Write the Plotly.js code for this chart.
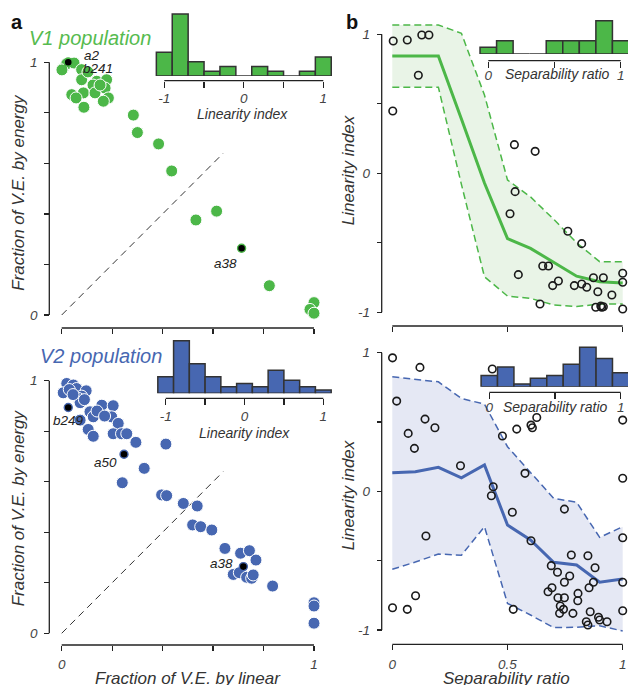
<!DOCTYPE html>
<html>
<head>
<meta charset="utf-8">
<script src="https://cdn.plot.ly/plotly-3.0.1.min.js"></script>
<style>html,body{margin:0;padding:0;background:#fff;}#chart{width:628px;height:685px;}</style>
</head>
<body>
<div id="chart"></div>
<script>
// ---------------- DATA ----------------
// Panel a, V1: fraction of V.E. by linear (x) vs by energy (y)
const v1Linear = [0.006,0.020,0.049,0.079,0.079,0.139,0.178,0.124,0.040,0.086,0.132,0.172,0.185,0.165,0.088,0.152,0.104,0.057,0.001,0.284,0.300,0.384,0.436,0.532,0.614,0.823,1.0,0.984,1.0];
const v1Energy = [0.977,0.994,0.997,0.971,0.931,0.925,0.931,0.910,0.872,0.879,0.879,0.898,0.859,0.846,0.822,0.910,0.962,0.859,0.970,0.791,0.722,0.677,0.570,0.376,0.411,0.116,0.049,0.022,0.007];
const v1MarkedLinear = [0.026,0.026,0.713];
const v1MarkedEnergy = [1.0,1.0,0.264];
const v1MarkedNames = ['a2','b241','a38'];

// Panel a, V2
const v2Linear = [0.020,0.006,0.046,0.059,0.097,0.079,0.066,0.073,0.112,0.159,0.204,0.198,0.125,0.073,0.105,0.125,0.224,0.204,0.237,0.258,0.294,0.413,0.327,0.240,0.396,0.416,0.482,0.537,0.519,0.551,0.595,0.647,0.709,0.744,0.770,0.680,0.704,0.733,0.753,0.759,0.836,1.0,1.0,1.0,0.030,0.090,0.140,0.170,0.045];
const v2Energy = [0.989,0.952,0.983,0.969,0.960,0.939,0.930,0.913,0.877,0.903,0.901,0.857,0.857,0.844,0.807,0.780,0.831,0.790,0.790,0.790,0.756,0.749,0.653,0.596,0.548,0.545,0.514,0.504,0.429,0.422,0.409,0.336,0.317,0.327,0.290,0.233,0.240,0.222,0.218,0.231,0.187,0.121,0.108,0.040,0.965,0.925,0.880,0.860,0.945];
const v2MarkedLinear = [0.026,0.247,0.720];
const v2MarkedEnergy = [0.894,0.709,0.264];
const v2MarkedNames = ['b249','a50','a38'];

// Linearity index histograms (bin centres, counts)
const liBins = [-1.0,-0.8,-0.6,-0.4,-0.2,0.0,0.2,0.4,0.6,0.8,1.0];
const v1LiCounts = [5,13,3,1,2,0,2,1,0,1,4];
const v2LiCounts = [5,16,9,5,2,3,2,7,4,2,1];

// Panel b: separability ratio (x) vs linearity index (y)
const v1Sep = [0.004,0.065,0.128,0.159,0.113,0.002,0.530,0.620,0.533,0.511,0.762,0.822,0.653,0.678,0.547,0.641,0.696,0.721,0.790,0.822,0.844,0.873,0.916,0.892,0.953,1.0,1.0,1.0,0.883,0.909,0.916,0.905];
const v1LI  = [0.952,0.959,0.995,0.995,0.705,0.448,0.206,0.158,-0.132,-0.291,-0.417,-0.506,-0.667,-0.667,-0.729,-0.940,-0.808,-0.775,-0.808,-0.796,-0.820,-0.751,-0.751,-0.852,-0.876,-0.719,-0.784,-0.976,-0.964,-0.964,-0.960,-0.955];
const v2Sep = [0.001,0.120,0.434,0.019,0.142,0.185,0.069,0.096,0.296,0.438,0.430,0.478,0.540,0.602,0.608,0.627,0.576,0.521,0.602,0.146,0.747,0.777,0.849,0.690,0.717,0.880,0.770,0.747,0.873,0.854,0.693,0.676,0.806,0.719,0.747,0.805,0.729,0.743,0.726,0.784,0.859,0.895,0.900,0.932,0.842,0.849,0.001,0.065,0.101,0.525,1.0,1.0,1.0,1.0,1.0];
const v2LI  = [0.963,0.894,0.882,0.651,0.521,0.459,0.418,0.310,0.185,0.033,-0.032,0.399,0.449,0.478,0.459,0.533,0.130,-0.151,-0.356,-0.322,-0.128,-0.459,-0.464,-0.536,-0.584,-0.551,-0.611,-0.656,-0.656,-0.695,-0.695,-0.724,-0.736,-0.767,-0.767,-0.789,-0.827,-0.851,-0.880,-0.880,-0.868,-0.908,-0.928,-0.940,-0.940,-0.964,-0.839,-0.851,-0.753,-0.851,0.514,0.094,-0.335,-0.656,-0.861];

// Running mean and band (separability ratio bins)
const sepGrid = [0.0,0.1,0.2,0.3,0.4,0.5,0.6,0.7,0.8,0.9,1.0];
const v1Mean  = [0.844,0.844,0.844,0.39,-0.07,-0.47,-0.54,-0.64,-0.74,-0.78,-0.79];
const v1Upper = [1.067,1.067,1.067,1.007,0.563,-0.048,-0.17,-0.33,-0.50,-0.636,-0.636];
const v1Lower = [0.619,0.619,0.619,-0.08,-0.744,-0.883,-0.90,-0.947,-0.959,-0.94,-0.94];
const v2Mean  = [0.134,0.141,0.173,0.098,0.190,-0.243,-0.351,-0.512,-0.531,-0.656,-0.632];
const v2Upper = [0.826,0.81,0.790,0.670,0.629,0.322,0.137,-0.050,-0.079,-0.332,-0.255];
const v2Lower = [-0.562,-0.51,-0.452,-0.461,-0.255,-0.808,-0.892,-0.983,-0.98,-0.97,-1.007];

// Separability ratio histograms
const sepBins = [0,0.125,0.25,0.375,0.5,0.625,0.75,0.875,1.0];
const v1SepCounts = [2,4,0,0,4,4,4,10,4];
const v2SepCounts = [4,7,1,3,4,8,14,10,5];

// Diagonal reference
const diagX = [0,0.64];
const diagY = [0,0.64];

// ---------------- STYLE / LAYOUT ----------------
const W = 628, H = 685;
const GREEN = '#4cb748', GREEN_T = '#56bb4f', BLUE = '#4767b1';
const GREEN_FILL = '#e9f4e7', BLUE_FILL = '#e5e8f4';
const FONT = 'Liberation Sans, Arial, Helvetica, sans-serif';
const AX = '#222';

function inv(v0,p0,v1,p1){ return p => v0 + (p-p0)*(v1-v0)/(p1-p0); }
const tickFont = {family: FONT, size: 13.5, color: '#444', style: 'italic'};
function xAxis(v0,p0,v1,p1,a,b,linePy,opts){
  const f = inv(v0,p0,v1,p1);
  return Object.assign({domain:[a/W,b/W], range:[f(a),f(b)], anchor:'free', position:1-linePy/H,
    showline:false, zeroline:false, showgrid:false, ticks:'outside', ticklen:5, tickwidth:1.3,
    tickcolor:AX, tickfont:tickFont, ticklabelstandoff:2, fixedrange:true}, opts);
}
function yAxis(v0,p0,v1,p1,top,bottom,linePx,opts){
  const f = inv(v0,p0,v1,p1);
  return Object.assign({domain:[1-bottom/H,1-top/H], range:[f(bottom),f(top)], anchor:'free', position:linePx/W,
    showline:false, zeroline:false, showgrid:false, ticks:'outside', ticklen:5, tickwidth:1.3,
    tickcolor:AX, tickfont:tickFont, ticklabelstandoff:4, fixedrange:true}, opts);
}
function hLine(xref,v0,v1,py){ return {type:'line', xref:xref, yref:'paper', x0:v0, x1:v1, y0:1-py/H, y1:1-py/H, line:{color:AX,width:1.3}}; }
function vLine(yref,v0,v1,px){ return {type:'line', xref:'paper', yref:yref, x0:px/W, x1:px/W, y0:v0, y1:v1, line:{color:AX,width:1.3}}; }
function ann(text,px,py,opts){
  return Object.assign({text:text, xref:'paper', yref:'paper', x:px/W, y:1-py/H, showarrow:false, borderpad:0,
    xanchor:'center', yanchor:'middle', font:{family:FONT, size:17, color:'#333', style:'italic'}}, opts);
}

const fracTicks = [0,0.2,0.4,0.6,0.8,1];
const fracText = ['0','','','','','1'];
const histLiTicks = {tickvals:[-1,-0.5,0,0.5,1], ticktext:['-1','','0','','1'], ticklen:6, ticklabelstandoff:-1};
const histSepTicks = {tickvals:[0,0.5,1], ticktext:['0','','1'], ticklen:6, ticklabelstandoff:-4};

const layout = {
  width: W, height: H, margin:{l:0,r:0,t:0,b:0}, showlegend:false,
  paper_bgcolor:'#ffffff', plot_bgcolor:'rgba(0,0,0,0)',
  // a top (V1)
  xaxis:  xAxis(0,61.7,1,314, 55,330, 328, {tickvals:fracTicks, showticklabels:false}),
  yaxis:  yAxis(0,315,1,62.3, 50,322, 49.3, {tickvals:fracTicks, ticktext:fracText}),
  // a bottom (V2)
  xaxis2: xAxis(0,61.7,1,314, 55,330, 645, {tickvals:fracTicks, ticktext:fracText}),
  yaxis2: yAxis(0,633.3,1,380.7, 370,640, 49.3, {tickvals:fracTicks, ticktext:fracText}),
  // b top
  xaxis3: xAxis(0,392.3,1,622.7, 384,628, 326, {tickvals:[0,0.5,1], showticklabels:false}),
  yaxis3: yAxis(-1,312.3,1,34.3, 18,320, 381.7, {tickvals:[-1,-0.5,0,0.5,1], ticktext:['-1','','0','','1']}),
  // b bottom
  xaxis4: xAxis(0,392.3,1,622.7, 384,628, 644.3, {tickvals:[0,0.5,1], ticktext:['0','0.5','1']}),
  yaxis4: yAxis(-1,630,1,352.7, 338,638, 381.7, {tickvals:[-1,-0.5,0,0.5,1], ticktext:['-1','','0','','1']}),
  // histograms
  xaxis5: xAxis(-1,164.3,1,323.3, 150,340, 80.7, histLiTicks),
  yaxis5: yAxis(0,76,13,14, 8,76, 0, {visible:false}),
  xaxis6: xAxis(-1,165.7,1,323.3, 150,340, 398.3, histLiTicks),
  yaxis6: yAxis(0,393.3,16,340.7, 335,393.3, 0, {visible:false}),
  xaxis7: xAxis(0,488.3,1,620.7, 470,628, 60.7, histSepTicks),
  yaxis7: yAxis(0,54,10,20.7, 12,54, 0, {visible:false}),
  xaxis8: xAxis(0,489.3,1,620.7, 470,628, 392.3, histSepTicks),
  yaxis8: yAxis(0,386.7,14,347.3, 340,386.7, 0, {visible:false}),
  shapes: [
    vLine('y',0,1,49.3), hLine('x',0,1,328),
    vLine('y2',0,1,49.3), hLine('x2',0,1,645),
    vLine('y3',-1,1,381.7), hLine('x3',0,1,326),
    vLine('y4',-1,1,381.7), hLine('x4',0,1,644.3),
    hLine('x5',-1,1,80.7), hLine('x6',-1,1,398.3),
    hLine('x7',0,1,60.7), hLine('x8',0,1,392.3)
  ],
  annotations: [
    ann('a',16.7,22,{font:{family:FONT,size:20,color:'#111',weight:'bold'}}),
    ann('b',351.7,21.7,{font:{family:FONT,size:20,color:'#111',weight:'bold'}}),
    ann('V1 population',28.3,38,{xanchor:'left', font:{family:FONT,size:20,color:GREEN_T,style:'italic'}}),
    ann('V2 population',39.3,356,{xanchor:'left', font:{family:FONT,size:20,color:BLUE,style:'italic'}}),
    ann('Fraction of V.E. by energy',18.3,192.5,{textangle:-90}),
    ann('Fraction of V.E. by energy',18.3,508,{textangle:-90}),
    ann('Fraction of V.E. by linear',188,678.5),
    ann('Linearity index',348.3,170,{textangle:-90}),
    ann('Linearity index',348.3,495,{textangle:-90}),
    ann('Separability ratio',506.7,678.5),
    ann('Linearity index',242.7,113.5,{font:{family:FONT,size:14,color:'#333',style:'italic'}}),
    ann('Linearity index',244.3,433,{font:{family:FONT,size:14,color:'#333',style:'italic'}}),
    ann('Separability ratio',556.7,74,{font:{family:FONT,size:14,color:'#333',style:'italic'}}),
    ann('Separability ratio',555,406.7,{font:{family:FONT,size:14,color:'#333',style:'italic'}})
  ]
};

// marked neuron labels (offsets in px)
const v1LabelOffsets = [{xs:15,ys:7,xa:'left'},{xs:14,ys:-6,xa:'left'},{xs:-4,ys:-15,xa:'right'}];
const v2LabelOffsets = [{xs:0,ys:-13,xa:'center'},{xs:-6,ys:-8,xa:'right'},{xs:-9,ys:3,xa:'right'}];
function labelAnns(xs,ys,names,offs,xref,yref){
  return names.map((n,i)=>({text:n, x:xs[i], y:ys[i], xref:xref, yref:yref, showarrow:false, borderpad:0,
    xanchor:offs[i].xa, yanchor:'middle', xshift:offs[i].xs, yshift:offs[i].ys,
    font:{family:FONT,size:13.5,color:'#222',style:'italic'}}));
}
layout.annotations = layout.annotations
  .concat(labelAnns(v1MarkedLinear,v1MarkedEnergy,v1MarkedNames,v1LabelOffsets,'x','y'))
  .concat(labelAnns(v2MarkedLinear,v2MarkedEnergy,v2MarkedNames,v2LabelOffsets,'x2','y2'));

function dots(x,y,color,xa,ya){
  return {type:'scatter', mode:'markers', x:x, y:y, xaxis:xa, yaxis:ya, cliponaxis:false, hoverinfo:'skip',
    marker:{size:12, color:color, line:{color:'#ffffff', width:1}}};
}
function marks(x,y,ring,xa,ya){
  return {type:'scatter', mode:'markers', x:x, y:y, xaxis:xa, yaxis:ya, cliponaxis:false, hoverinfo:'skip',
    marker:{size:8, color:'#000000', line:{color:ring, width:1.4}}};
}
function diag(xa,ya){
  return {type:'scatter', mode:'lines', x:diagX, y:diagY, xaxis:xa, yaxis:ya, hoverinfo:'skip',
    line:{color:'#333', width:1, dash:'7px,5px'}};
}
function band(lower,upper,mean,color,fill,xa,ya){
  return [
    {type:'scatter', mode:'lines', x:sepGrid, y:lower, xaxis:xa, yaxis:ya, hoverinfo:'skip',
      line:{color:color, width:1.5, dash:'7px,4px'}},
    {type:'scatter', mode:'lines', x:sepGrid, y:upper, xaxis:xa, yaxis:ya, hoverinfo:'skip', fill:'tonexty', fillcolor:fill,
      line:{color:color, width:1.5, dash:'7px,4px'}},
    {type:'scatter', mode:'lines', x:sepGrid, y:mean, xaxis:xa, yaxis:ya, hoverinfo:'skip',
      line:{color:color, width:3}}
  ];
}
function rings(x,y,xa,ya){
  return {type:'scatter', mode:'markers', x:x, y:y, xaxis:xa, yaxis:ya, cliponaxis:false, hoverinfo:'skip',
    marker:{symbol:'circle-open', size:7.5, color:'#1a1a1a', line:{width:1.6}}};
}
function hist(x,y,w,color,xa,ya){
  return {type:'bar', x:x, y:y, width:w, xaxis:xa, yaxis:ya, hoverinfo:'skip',
    marker:{color:color, line:{color:'#333', width:1.5}}};
}

const data = [
  diag('x','y'), dots(v1Linear,v1Energy,GREEN,'x','y'), marks(v1MarkedLinear,v1MarkedEnergy,GREEN,'x','y'),
  diag('x2','y2'), dots(v2Linear,v2Energy,BLUE,'x2','y2'), marks(v2MarkedLinear,v2MarkedEnergy,BLUE,'x2','y2'),
  ...band(v1Lower,v1Upper,v1Mean,GREEN,GREEN_FILL,'x3','y3'), rings(v1Sep,v1LI,'x3','y3'),
  ...band(v2Lower,v2Upper,v2Mean,BLUE,BLUE_FILL,'x4','y4'), rings(v2Sep,v2LI,'x4','y4'),
  hist(liBins,v1LiCounts,0.2,GREEN,'x5','y5'),
  hist(liBins,v2LiCounts,0.2,BLUE,'x6','y6'),
  hist(sepBins,v1SepCounts,0.125,GREEN,'x7','y7'),
  hist(sepBins,v2SepCounts,0.125,BLUE,'x8','y8')
];

Plotly.newPlot('chart', data, layout, {displayModeBar:false, staticPlot:true});
</script>
</body>
</html>
